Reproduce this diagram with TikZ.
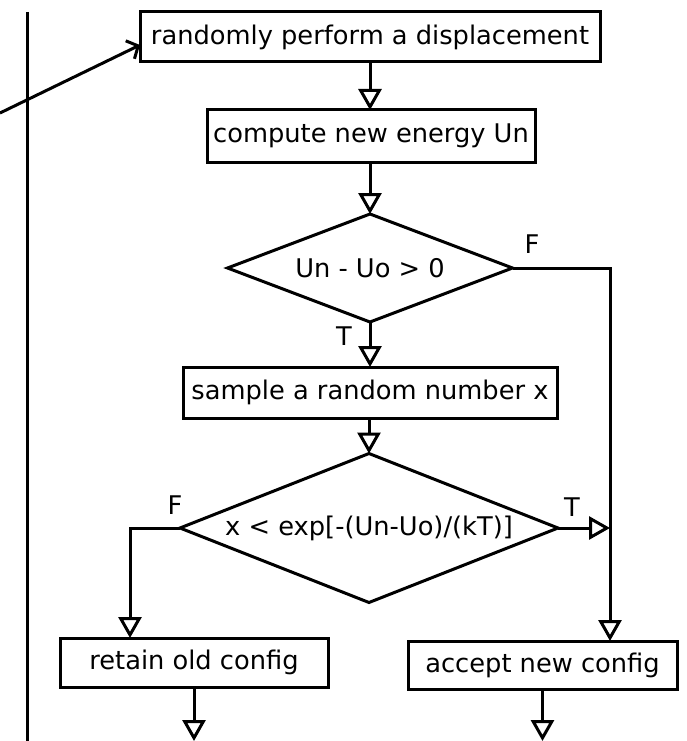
\documentclass[tikz,border=0pt]{standalone}
\usepackage{fontspec}
\setmainfont{DejaVu Sans}
\usetikzlibrary{arrows.meta,shapes.geometric}
\begin{document}
\begin{tikzpicture}[x=1pt,y=-1pt,
  line width=3pt,
  every node/.style={font=\fontsize{25.7}{30}\selectfont},
  procbox/.style={draw, rectangle, inner sep=0pt, outer sep=0pt, minimum height=50pt},
  decision/.style={draw, diamond, inner sep=0pt, outer sep=0pt},
  flow/.style={-{Triangle[open, length=21pt, width=23pt]}},
  lbl/.style={inner sep=0pt}
]
\useasboundingbox (0,0) rectangle (686,741);
% nodes
\node[procbox, minimum width=460pt] (b1) at (370,37) {randomly perform a displacement};
\node[procbox, minimum width=328pt, minimum height=52pt] (b2) at (371,136) {compute new energy Un};
\node[decision, minimum width=285pt, minimum height=108pt, aspect=2.64] (d1) at (370,268) {Un - Uo > 0};
\node[procbox, minimum width=374pt, minimum height=51pt] (b3) at (370,392.5) {sample a random number x};
\node[decision, minimum width=378pt, minimum height=149pt, aspect=2.54] (d2) at (369,528) {x < exp[-(Un-Uo)/(kT)]};
\node[procbox, minimum width=268pt, minimum height=49pt] (ret) at (194,662.5) {retain old config};
\node[procbox, minimum width=269pt, minimum height=48pt] (acc) at (542.5,665) {accept new config};
% labels
\node[lbl] (lF1) at (532,244) {F};
\node[lbl] (lT1) at (344,336) {T};
\node[lbl] (lF2) at (175,505) {F};
\node[lbl] (lT2) at (572,507) {T};
% coordinates
\coordinate (c1) at (610,268);
\coordinate (j2) at (610,528);
\coordinate (c2) at (130,528);
\coordinate (e1) at (194,741);
\coordinate (e2) at (542.5,741);
\coordinate (v1) at (27,12);
\coordinate (v2) at (27,741);
\coordinate (s) at (0,113);
% connectors
\draw (v1) -- (v2);
\draw[-{Straight Barb[length=9pt, width=20pt]}] (s) -- ([yshift=-8pt]b1.west);
\draw[flow] (b1.south) -- (b1.south |- b2.north);
\draw[flow] (b2.south -| d1.north) -- (d1.north);
\draw[flow] (d1.south) -- (d1.south |- b3.north);
\draw[flow] (b3.south -| d2.north) -- (d2.north);
\draw[flow] (d1.east) -- (c1) -- (c1 |- acc.north);
\draw[flow] (d2.east) -- (j2);
\draw[flow] (d2.west) -- (c2) -- (c2 |- ret.north);
\draw[flow] (ret.south) -- (e1);
\draw[flow] (acc.south) -- (e2);
\end{tikzpicture}
\end{document}
